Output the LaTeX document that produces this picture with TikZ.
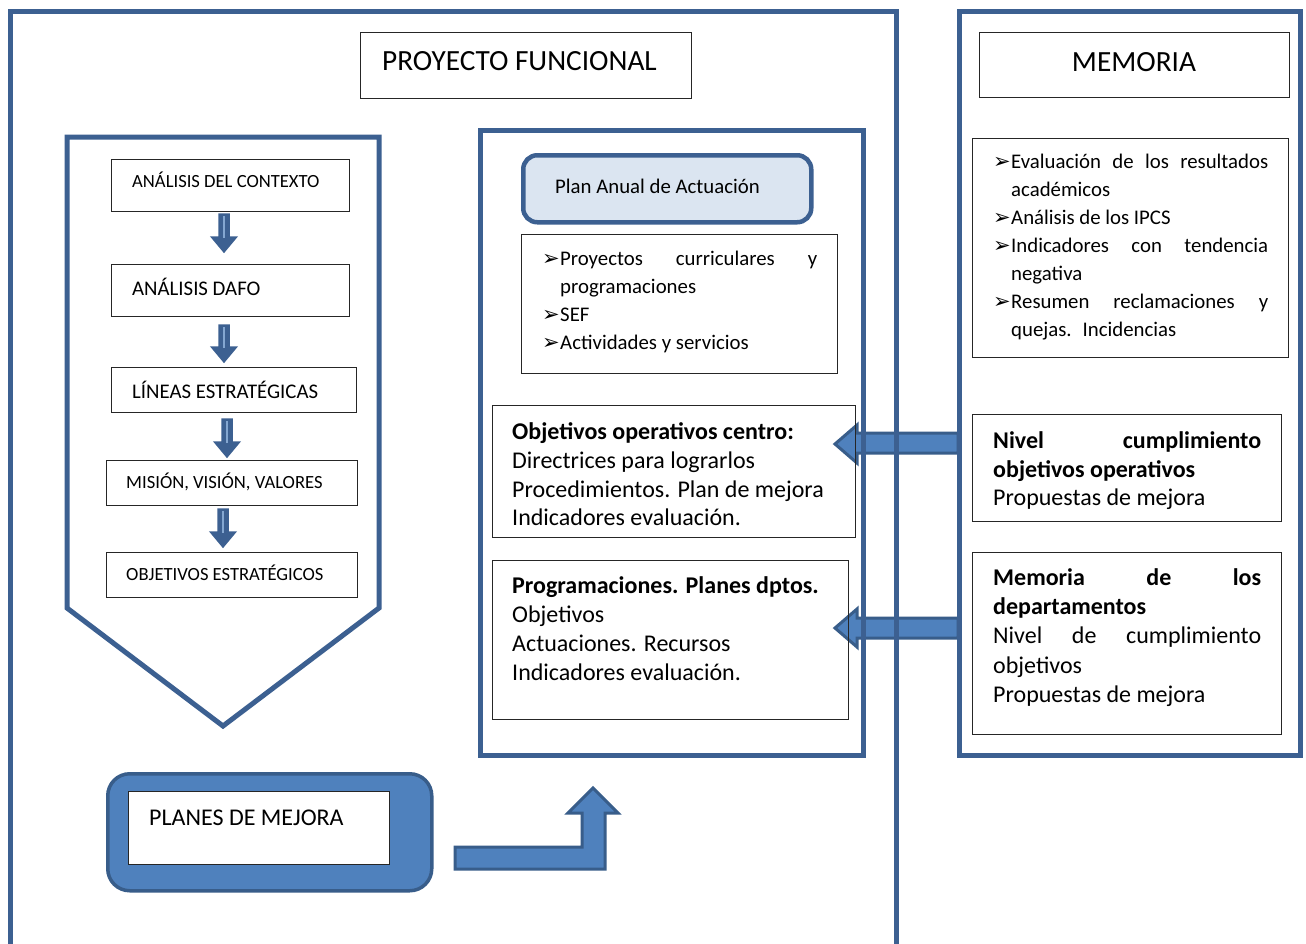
\documentclass[tikz,border=0pt]{standalone}
\usepackage{fontspec}
\setmainfont{Carlito}
\newfontfamily\symfont{DejaVu Sans}
\definecolor{frameblue}{RGB}{60,96,145}
\definecolor{accent}{RGB}{79,129,189}
\definecolor{darkacc}{RGB}{56,93,138}
\definecolor{lightfill}{RGB}{219,229,241}
\newcommand\bul{\leavevmode\llap{\makebox[18pt][l]{\symfont\fontsize{21}{21}\selectfont\raisebox{-0.5pt}{➢}}}}
\newcommand\fsS{\fontsize{18.6}{22}\selectfont}
\newcommand\fsM{\fontsize{20.8}{28}\selectfont}
\newcommand\fsL{\fontsize{24}{29.1}\selectfont}
\newcommand\fsT{\fontsize{29.3}{34}\selectfont}
\newcommand\dnarr[4]{\draw[dnar] (#1-5,#2) -- (#1+5,#2) -- (#1+5,#3) -- (#1+12.5,#3) -- (#1,#4) -- (#1-12.5,#3) -- (#1-5,#3) -- cycle;
  \draw[accent!70!white, line width=1.2pt] (#1,#2+2) -- (#1,#3+1);}
\tikzset{
  frame/.style={draw=frameblue, line width=5pt, line join=miter},
  tbox/.style={draw=black!85, line width=1.2pt, rectangle, inner sep=0, anchor=north west},
  txt/.style={inner sep=0, anchor=base west},
  dnar/.style={fill=frameblue, draw=frameblue, line width=1.5pt, line join=miter},
  blkar/.style={fill=accent, draw=darkacc, line width=3pt, line join=miter},
}
\begin{document}
\begin{tikzpicture}[x=1pt,y=-1pt]
\useasboundingbox (0,0) rectangle (1306,943);
\clip (0,0) rectangle (1306,943);
\fill[white] (0,0) rectangle (1306,943);

% block arrows from memoria to plan (under the frames)
\draw[blkar] (958,433) -- (857,433) -- (857,425) -- (835,444) -- (857,463) -- (857,453) -- (958,453) -- cycle;
\draw[blkar] (958,618) -- (857,618) -- (857,609) -- (835,628) -- (857,647) -- (857,638) -- (958,638) -- cycle;

% frames
\draw[frame] (10,960) -- (10,11) -- (896,11) -- (896,960);
\draw[frame] (959,11) rectangle (1300,755);
\draw[frame] (480,130) rectangle (863,755);
\draw[frame] (67,608) -- (67,137) -- (379,137) -- (379,608) -- (223,726) -- cycle;

% titles
\node[tbox, minimum width=331pt, minimum height=66pt] (proy) at (360,32) {};
\node[txt, font=\fsT] (proyt) at (382,70) {PROYECTO FUNCIONAL};
\node[tbox, minimum width=310pt, minimum height=65pt] (mem) at (979,32) {};
\node[inner sep=0, anchor=base, font=\fsT] (memt) at (1134,71) {MEMORIA};

% chevron boxes
\node[tbox, minimum width=238pt, minimum height=52pt] (ctx) at (111,159) {};
\node[txt, font=\fsS] (ctxt) at (132,187) {ANÁLISIS DEL CONTEXTO};
\node[tbox, minimum width=238pt, minimum height=52pt] (dafo) at (111,264) {};
\node[txt, font=\fsM] (dafot) at (132,295) {ANÁLISIS DAFO};
\node[tbox, minimum width=245pt, minimum height=45pt] (lin) at (111,367) {};
\node[txt, font=\fsM] (lint) at (132,398) {LÍNEAS ESTRATÉGICAS};
\node[tbox, minimum width=251pt, minimum height=45pt] (mis) at (106,460) {};
\node[txt, font=\fsS] (mist) at (126,488) {MISIÓN, VISIÓN, VALORES};
\node[tbox, minimum width=251pt, minimum height=45pt] (obe) at (106,552) {};
\node[txt, font=\fsS] (obet) at (126,580) {OBJETIVOS ESTRATÉGICOS};

\dnarr{224}{214}{237}{252}
\dnarr{224}{325}{347}{362}
\dnarr{227}{419}{442}{457}
\dnarr{223}{509}{532}{547}

% plan anual
\node[draw=frameblue, fill=lightfill, line width=4.5pt, rounded corners=14pt, minimum width=288pt, minimum height=67pt, inner sep=0, anchor=north west] (plan) at (521,153) {};
\node[txt, font=\fsM] (plant) at (555,193) {Plan Anual de Actuación};

\node[tbox, minimum width=316pt, minimum height=139pt] (pbul) at (521,234) {};
\node[txt, font=\fsM] (pb1) at (560,265) {\bul\hbox to 257pt{Proyectos\hfill curriculares\hfill y}};
\node[txt, font=\fsM] (pb2) at (560,293) {programaciones};
\node[txt, font=\fsM] (pb3) at (560,321) {\bul SEF};
\node[txt, font=\fsM] (pb4) at (560,349) {\bul Actividades y servicios};

\node[tbox, minimum width=363pt, minimum height=132pt] (objop) at (492,405) {};
\node[txt, font=\fsL] (oo1) at (512,439) {\textbf{Objetivos operativos centro:}};
\node[txt, font=\fsL] (oo2) at (512,468) {Directrices para lograrlos};
\node[txt, font=\fsL] (oo3) at (512,497) {Procedimientos. Plan de mejora};
\node[txt, font=\fsL] (oo4) at (512,525) {Indicadores evaluación.};

\node[tbox, minimum width=356pt, minimum height=159pt] (prog) at (492,560) {};
\node[txt, font=\fsL] (pg1) at (512,593) {\textbf{Programaciones. Planes dptos.}};
\node[txt, font=\fsL] (pg2) at (512,622) {Objetivos};
\node[txt, font=\fsL] (pg3) at (512,651) {Actuaciones. Recursos};
\node[txt, font=\fsL] (pg4) at (512,680) {Indicadores evaluación.};

% memoria side
\node[tbox, minimum width=316pt, minimum height=219pt] (mbul) at (972,138) {};
\node[txt, font=\fsM] (mb1) at (1011,168) {\bul\hbox to 257pt{Evaluación\hfill de\hfill los\hfill resultados}};
\node[txt, font=\fsM] (mb2) at (1011,196) {académicos};
\node[txt, font=\fsM] (mb3) at (1011,224) {\bul Análisis de los IPCS};
\node[txt, font=\fsM] (mb4) at (1011,252) {\bul\hbox to 257pt{Indicadores\hfill con\hfill tendencia}};
\node[txt, font=\fsM] (mb5) at (1011,280) {negativa};
\node[txt, font=\fsM] (mb6) at (1011,308) {\bul\hbox to 257pt{Resumen\hfill reclamaciones\hfill y}};
\node[txt, font=\fsM] (mb7) at (1011,336) {quejas.~ Incidencias};

\node[tbox, minimum width=309pt, minimum height=107pt] (niv) at (972,414) {};
\node[txt, font=\fsL] (nv1) at (993,448) {\bfseries\hbox to 268pt{Nivel\hfill cumplimiento}};
\node[txt, font=\fsL] (nv2) at (993,477) {\textbf{objetivos operativos}};
\node[txt, font=\fsL] (nv3) at (993,505) {Propuestas de mejora};

\node[tbox, minimum width=309pt, minimum height=182pt] (mdep) at (972,552) {};
\node[txt, font=\fsL] (md1) at (993,585) {\bfseries\hbox to 268pt{Memoria\hfill de\hfill los}};
\node[txt, font=\fsL] (md2) at (993,614) {\textbf{departamentos}};
\node[txt, font=\fsL] (md3) at (993,643) {\hbox to 268pt{Nivel\hfill de\hfill cumplimiento}};
\node[txt, font=\fsL] (md4) at (993,673) {objetivos};
\node[txt, font=\fsL] (md5) at (993,702) {Propuestas de mejora};

% planes de mejora
\node[draw=darkacc, fill=accent, line width=3.5pt, rounded corners=22pt, minimum width=324pt, minimum height=117pt, inner sep=0, anchor=north west] (pm) at (106,772) {};
\node[tbox, fill=white, minimum width=261pt, minimum height=73pt] (pmi) at (128,791) {};
\node[txt, font=\fsL] (pmt) at (149,825) {PLANES DE MEJORA};

% bent arrow
\draw[blkar] (455,847) -- (582,847) -- (582,813) -- (568,813) -- (593,788) -- (618,813) -- (605,813) -- (605,869) -- (455,869) -- cycle;
\end{tikzpicture}
\end{document}
